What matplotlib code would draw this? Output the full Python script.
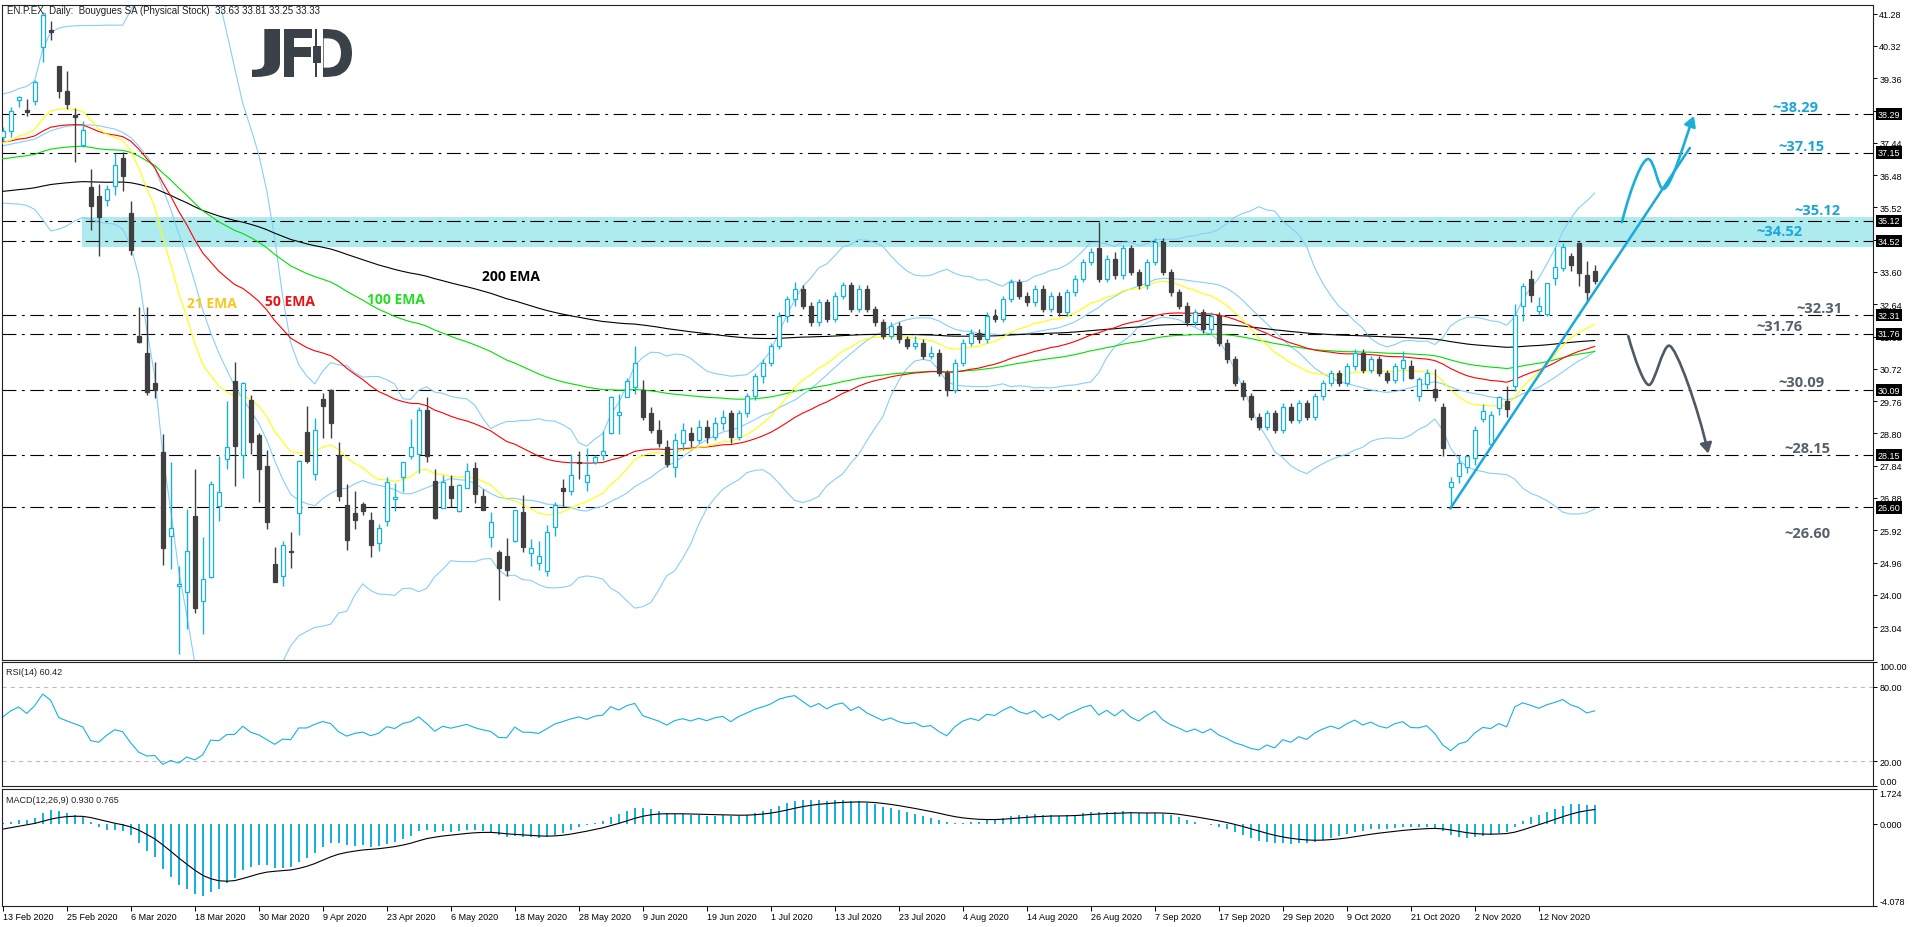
import numpy as np
import pandas as pd
import matplotlib
matplotlib.use("Agg")
import matplotlib.pyplot as plt
from matplotlib.path import Path
from matplotlib.patches import FancyArrowPatch, PathPatch, Rectangle
from matplotlib.textpath import TextPath
from matplotlib.font_manager import FontProperties
from matplotlib.transforms import Affine2D

plt.rcParams['font.family'] = ['Liberation Sans', 'DejaVu Sans']
plt.rcParams['lines.scale_dashes'] = False

# ---- daily OHLC, Bouygues SA, 13 Feb 2020 .. 23 Nov 2020 ----
opens = [
    37.60, 37.79, 38.71, 38.41, 38.68, 40.30, 40.80, 39.72, 38.98, 38.28,
    37.38, 36.12, 35.86, 35.74, 36.16, 36.99, 35.35, 31.69, 31.19, 30.30,
    28.25, 25.74, 24.26, 24.08, 26.35, 23.82, 24.53, 26.65, 28.03, 30.36,
    28.15, 29.79, 28.75, 27.83, 24.92, 24.55, 25.30, 26.42, 28.83, 27.60,
    29.82, 30.08, 28.16, 26.67, 26.42, 26.70, 26.23, 25.53, 26.19, 26.85,
    27.50, 28.12, 28.18, 29.50, 27.38, 26.59, 27.25, 26.50, 27.18, 27.76,
    26.93, 25.71, 25.26, 25.14, 25.61, 26.47, 25.23, 24.94, 24.70, 26.01,
    27.17, 27.10, 27.94, 27.35, 27.94, 28.17, 28.81, 29.36, 29.87, 30.17,
    30.10, 29.40, 28.90, 28.40, 27.80, 28.50, 28.80, 28.60, 29.00, 28.70,
    29.10, 29.40, 28.70, 29.40, 29.90, 30.50, 30.90, 31.40, 32.30, 32.80,
    33.10, 32.60, 32.10, 32.70, 32.20, 32.90, 33.20, 32.50, 33.10, 32.50,
    32.10, 31.70, 32.00, 31.60, 31.40, 31.50, 31.10, 31.20, 30.60, 30.10,
    30.90, 31.50, 31.80, 31.60, 32.30, 32.20, 32.80, 33.30, 32.90, 32.70,
    33.10, 32.50, 32.90, 32.40, 33.00, 33.40, 33.90, 34.30, 33.40, 34.00,
    33.50, 34.30, 33.60, 33.20, 33.90, 34.50, 33.60, 33.00, 32.60, 32.10,
    32.40, 31.90, 32.30, 31.50, 31.00, 30.30, 29.90, 29.30, 29.00, 29.40,
    28.90, 29.60, 29.20, 29.70, 29.30, 29.90, 30.30, 30.60, 30.30, 30.80,
    31.20, 30.70, 31.00, 30.60, 30.40, 30.74, 30.79, 29.92, 30.26, 30.12,
    29.59, 27.20, 27.52, 27.79, 28.06, 29.23, 28.48, 29.55, 29.77, 30.22,
    32.58, 33.39, 32.43, 32.35, 33.42, 33.72, 34.07, 34.45, 33.51, 33.63,
]
highs = [
    37.90, 38.50, 38.82, 38.74, 39.32, 41.32, 41.07, 39.72, 39.58, 38.47,
    38.08, 36.66, 36.22, 36.18, 37.14, 37.17, 35.71, 32.55, 32.55, 30.93,
    28.78, 27.95, 24.87, 26.54, 27.74, 25.71, 27.38, 28.13, 29.75, 30.93,
    30.32, 29.94, 28.81, 28.31, 25.41, 25.59, 25.86, 28.00, 29.61, 29.26,
    30.00, 30.12, 28.53, 27.29, 27.10, 26.77, 26.46, 26.10, 27.50, 27.33,
    27.96, 29.23, 29.58, 29.87, 27.74, 27.55, 27.55, 27.30, 27.92, 27.94,
    27.15, 26.45, 25.34, 25.69, 26.51, 26.97, 25.66, 25.61, 26.08, 26.75,
    27.44, 28.20, 28.29, 28.36, 28.16, 28.88, 29.92, 29.97, 30.45, 31.39,
    30.40, 29.60, 29.20, 28.60, 28.80, 29.10, 29.00, 29.20, 29.20, 29.30,
    29.50, 29.50, 29.50, 30.00, 30.60, 31.00, 31.50, 32.40, 32.90, 33.30,
    33.20, 32.70, 32.80, 32.80, 33.00, 33.30, 33.30, 33.20, 33.20, 32.60,
    32.20, 32.10, 32.10, 31.70, 31.70, 31.60, 31.40, 31.30, 30.70, 31.00,
    31.60, 31.90, 31.90, 32.40, 32.50, 32.90, 33.40, 33.40, 33.00, 33.20,
    33.20, 33.00, 33.00, 33.10, 33.50, 34.00, 34.30, 35.10, 34.10, 34.20,
    34.40, 34.40, 33.70, 34.00, 34.60, 34.60, 33.70, 33.10, 32.70, 32.50,
    32.50, 32.40, 32.40, 31.60, 31.10, 30.40, 30.00, 29.40, 29.50, 29.50,
    29.70, 29.70, 29.80, 29.80, 30.00, 30.40, 30.70, 30.70, 30.90, 31.30,
    31.30, 31.10, 31.10, 30.70, 30.90, 31.26, 30.97, 30.47, 30.72, 30.72,
    29.70, 27.49, 28.16, 28.14, 29.03, 29.67, 29.47, 29.92, 30.20, 32.65,
    33.27, 33.66, 32.85, 33.28, 34.33, 34.46, 34.17, 34.48, 33.92, 33.81,
]
lows = [
    37.50, 37.61, 38.50, 38.24, 38.56, 39.85, 40.51, 38.77, 38.45, 36.87,
    37.31, 34.85, 34.07, 35.56, 35.89, 36.00, 34.10, 31.50, 29.94, 29.86,
    24.89, 24.76, 22.24, 22.98, 23.46, 22.84, 24.50, 26.20, 27.74, 27.24,
    27.48, 28.19, 26.77, 25.96, 24.37, 24.27, 24.80, 25.79, 27.92, 27.42,
    28.67, 28.66, 26.80, 25.34, 25.96, 26.38, 25.12, 25.31, 26.06, 26.50,
    27.05, 28.04, 27.62, 27.96, 26.26, 26.59, 26.61, 26.45, 27.18, 26.72,
    26.53, 25.43, 23.85, 24.57, 25.58, 25.27, 24.87, 24.75, 24.55, 25.76,
    26.65, 26.98, 27.44, 27.10, 27.90, 28.01, 28.78, 28.78, 29.87, 29.97,
    29.20, 28.80, 28.40, 27.80, 27.50, 28.30, 28.40, 28.50, 28.50, 28.60,
    28.90, 28.50, 28.60, 29.30, 29.80, 30.30, 30.80, 31.30, 32.10, 32.60,
    32.50, 32.00, 32.00, 32.10, 32.10, 32.80, 32.40, 32.40, 32.40, 32.00,
    31.60, 31.60, 31.50, 31.30, 31.30, 31.00, 31.00, 30.50, 29.90, 30.00,
    30.80, 31.40, 31.50, 31.50, 32.10, 32.10, 32.70, 32.80, 32.60, 32.60,
    32.40, 32.40, 32.30, 32.30, 32.90, 33.30, 33.80, 33.30, 33.30, 33.40,
    33.40, 33.50, 33.10, 33.10, 33.80, 33.50, 32.90, 32.50, 32.00, 32.00,
    31.80, 31.80, 31.40, 30.90, 30.20, 29.80, 29.20, 28.90, 28.90, 28.80,
    28.80, 29.10, 29.10, 29.20, 29.20, 29.80, 30.20, 30.20, 30.20, 30.70,
    30.60, 30.60, 30.50, 30.30, 30.30, 30.37, 30.43, 29.77, 30.12, 29.77,
    28.12, 26.57, 27.32, 27.62, 27.86, 29.13, 28.40, 29.36, 29.30, 30.07,
    32.13, 32.70, 32.33, 32.30, 33.22, 33.64, 33.64, 33.19, 32.75, 33.25,
]
closes = [
    37.78, 38.38, 38.80, 38.36, 39.25, 41.24, 40.73, 38.99, 38.59, 38.21,
    37.82, 35.56, 35.24, 36.06, 36.78, 36.45, 34.25, 31.53, 30.02, 30.08,
    25.40, 25.99, 24.32, 25.29, 23.62, 24.46, 27.29, 27.05, 28.39, 28.43,
    30.30, 28.55, 27.75, 26.17, 24.37, 25.49, 25.26, 27.99, 27.99, 28.89,
    29.62, 29.11, 26.95, 25.64, 26.23, 26.50, 25.49, 25.98, 27.35, 26.90,
    27.96, 28.41, 29.50, 28.12, 26.28, 27.35, 26.89, 27.28, 27.69, 27.00,
    26.53, 26.17, 24.79, 24.75, 26.51, 25.41, 25.38, 25.14, 25.86, 26.67,
    27.09, 27.56, 27.91, 27.56, 28.11, 28.29, 29.87, 29.45, 30.36, 30.88,
    29.30, 28.90, 28.50, 27.90, 28.60, 28.90, 28.60, 29.00, 28.70, 29.10,
    29.30, 28.70, 29.40, 29.90, 30.50, 30.90, 31.40, 32.30, 32.80, 33.10,
    32.60, 32.10, 32.70, 32.20, 32.90, 33.20, 32.50, 33.10, 32.50, 32.10,
    31.70, 32.00, 31.60, 31.40, 31.50, 31.10, 31.20, 30.60, 30.10, 30.90,
    31.50, 31.80, 31.60, 32.30, 32.20, 32.80, 33.30, 32.90, 32.70, 33.10,
    32.50, 32.90, 32.40, 33.00, 33.40, 33.90, 34.20, 33.40, 34.00, 33.50,
    34.30, 33.60, 33.20, 33.90, 34.50, 33.60, 33.00, 32.60, 32.10, 32.40,
    31.90, 32.30, 31.50, 31.00, 30.30, 29.90, 29.30, 29.00, 29.40, 28.90,
    29.60, 29.20, 29.70, 29.30, 29.90, 30.30, 30.60, 30.30, 30.80, 31.20,
    30.70, 31.00, 30.60, 30.40, 30.80, 30.99, 30.45, 30.42, 30.59, 29.87,
    28.37, 27.35, 27.91, 28.12, 28.90, 29.48, 29.35, 29.87, 29.52, 32.33,
    33.19, 32.92, 32.60, 33.26, 33.74, 34.35, 33.82, 33.56, 33.00, 33.33,
]

date_labels = ["13 Feb 2020", "25 Feb 2020", "6 Mar 2020", "18 Mar 2020", "30 Mar 2020",
               "9 Apr 2020", "23 Apr 2020", "6 May 2020", "18 May 2020", "28 May 2020",
               "9 Jun 2020", "19 Jun 2020", "1 Jul 2020", "13 Jul 2020", "23 Jul 2020",
               "4 Aug 2020", "14 Aug 2020", "26 Aug 2020", "7 Sep 2020", "17 Sep 2020",
               "29 Sep 2020", "9 Oct 2020", "21 Oct 2020", "2 Nov 2020", "12 Nov 2020"]
bars_per_label = 8

price_ticks = [41.28, 40.32, 39.36, 38.40, 37.44, 36.48, 35.52, 34.56, 33.60, 32.64,
               31.68, 30.72, 29.76, 28.80, 27.84, 26.88, 25.92, 24.96, 24.00, 23.04]
levels_up = [38.29, 37.15, 35.12, 34.52]
levels_down = [32.31, 31.76, 30.09, 28.15, 26.60]
zone_low, zone_high, zone_start = 34.35, 35.23, 9.9

# indicator warm-up values, read at the first bar of the chart
ema_seeds = {21: 37.40, 50: 37.45, 100: 36.95, 200: 35.98}
macd_seeds = (37.45, 37.45, -0.34)        # ema12, ema26, signal
rsi_seeds = (0.20, 0.16)                   # avg gain, avg loss
bb_head_upper = [38.89, 38.95, 39.05, 39.12, 39.29, 40.23, 40.73, 40.85, 40.90, 40.92,
                 40.93, 40.93, 40.93, 40.94, 40.94, 40.94, 41.38, 41.80, 42.30]
bb_head_mid = [37.35, 37.40, 37.45, 37.50, 37.55, 37.68, 37.80, 37.87, 37.93, 37.96,
               37.97, 37.97, 37.95, 37.90, 37.85, 37.75, 37.60, 37.35, 37.05]
bb_head_lower = [35.65, 35.63, 35.62, 35.58, 35.46, 35.16, 34.82, 34.87, 34.97, 35.12,
                 35.22, 35.16, 35.08, 35.05, 35.02, 34.87, 34.38, 33.49, 31.90]

# drawn analysis: support line and the two scenario arrows (bar index, price)
trend_x = [180.95, 210.9]
trend_y = [26.57, 37.29]
bull_path = [(202.4, 35.08), (203.6, 36.2), (205.0, 36.98), (205.7, 36.96),
             (206.5, 36.94), (206.9, 36.05), (207.6, 36.07),
             (208.6, 36.10), (210.2, 37.50), (211.4, 38.24)]
bear_path = [(203.2, 31.69), (204.0, 31.00), (205.2, 30.22), (205.8, 30.24),
             (206.5, 30.26), (207.5, 31.42), (208.3, 31.41),
             (209.2, 31.40), (212.0, 29.50), (213.2, 28.20)]

# ---------------- indicators ----------------
O = np.array(opens); Hh = np.array(highs); L = np.array(lows); C = np.array(closes)
n = len(C)
x = np.arange(n)
cs = pd.Series(C)


def ema(series, span, seed):
    s = pd.concat([pd.Series([seed]), pd.Series(series)], ignore_index=True)
    return s.ewm(span=span, adjust=False).mean().iloc[1:].to_numpy()


emas = {p: ema(cs, p, s) for p, s in ema_seeds.items()}

mid = cs.rolling(20).mean().to_numpy()
sd = cs.rolling(20).std(ddof=0).to_numpy()
bb_up = mid + 2 * sd
bb_lo = mid - 2 * sd
k = len(bb_head_mid)
bb_up[:k] = bb_head_upper; mid[:k] = bb_head_mid; bb_lo[:k] = bb_head_lower

macd = ema(cs, 12, macd_seeds[0]) - ema(cs, 26, macd_seeds[1])
signal = ema(macd, 9, macd_seeds[2])

g, l = rsi_seeds
rsi = []
for i in range(n):
    if i > 0:
        d = C[i] - C[i - 1]
        g = (g * 13 + max(d, 0)) / 14
        l = (l * 13 + max(-d, 0)) / 14
    rsi.append(100 - 100 / (1 + g / l))

# ---------------- figure ----------------
W, H = 1916, 928
fig = plt.figure(figsize=(W / 100, H / 100), dpi=100)


def px_axes(x0, y0, x1, y1):
    return fig.add_axes([x0 / W, 1 - y1 / H, (x1 - x0) / W, (y1 - y0) / H])


ax = px_axes(2, 6, 1873, 661)
ax_rsi = px_axes(2, 663, 1873, 787)
ax_macd = px_axes(2, 790, 1873, 907)
xmin, xmax = (2 - 2.7) / 8, (1873 - 2.7) / 8

CYAN = '#17B2DE'
DARK = '#404040'
LW = 0.8

for a in (ax, ax_rsi, ax_macd):
    a.set_xlim(xmin, xmax)
    a.yaxis.tick_right()
    a.tick_params(axis='y', direction='out', length=3, width=0.7, pad=1.5, labelsize=6.5)
    a.tick_params(axis='x', bottom=False, labelbottom=False)
    for s in a.spines.values():
        s.set_linewidth(0.8)
        s.set_color('#222222')

# main panel
ax.set_ylim(22.062, 41.539)
ax.fill_between([zone_start, xmax], zone_low, zone_high, color='#AEEBEE', lw=0, zorder=1)
for lv in levels_up + levels_down:
    ax.axhline(lv, color='black', lw=LW, linestyle=(0, (10, 4, 2, 4)), zorder=2)

ax.plot(x, bb_up, color='#87CEFA', lw=LW, zorder=2.5)
ax.plot(x, mid, color='#87CEFA', lw=LW, zorder=2.5)
ax.plot(x, bb_lo, color='#87CEFA', lw=LW, zorder=2.5)
ax.plot(x, emas[200], color='black', lw=LW, zorder=2.6)
ax.plot(x, emas[100], color='#00E000', lw=LW, zorder=2.6)
ax.plot(x, emas[50], color='#FF0000', lw=LW, zorder=2.6)
ax.plot(x, emas[21], color='#FFFF00', lw=LW, zorder=2.6)

up = C >= O
ax.vlines(x, L, Hh, colors=np.where(up, CYAN, DARK), lw=1.0, zorder=3)
ax.bar(x, np.maximum(np.abs(C - O), 0.03), bottom=np.minimum(O, C), width=0.5,
       color=np.where(up, 'white', DARK), edgecolor=np.where(up, CYAN, DARK),
       linewidth=0.9, zorder=4)

ax.plot(trend_x, trend_y, color='#1AA9D9', lw=1.8, zorder=5, solid_capstyle='round')
codes = [Path.MOVETO] + [Path.CURVE4] * 9
for pts, col in ((bull_path, '#1AAFDA'), (bear_path, '#4F5964')):
    arr = FancyArrowPatch(path=Path(pts, codes), arrowstyle='-|>,head_length=6,head_width=3.5',
                          color=col, lw=1.9, zorder=5)
    ax.add_patch(arr)

ax.set_yticks(price_ticks)
ax.set_yticklabels([f"{t:.2f}" for t in price_ticks])
for lv in levels_up + levels_down:
    ax.annotate(f"{lv:.2f}", xy=(1, lv), xycoords=('axes fraction', 'data'),
                xytext=(3.2, 0), textcoords='offset points', ha='left', va='center',
                color='white', fontsize=6.5, annotation_clip=False,
                bbox=dict(boxstyle='square,pad=0.18', fc='black', ec='none'))

lvl_font = dict(fontsize=10.5, fontweight='bold', family=['Open Sans', 'DejaVu Sans'], va='center')
lvl_text = [(221.2, 38.52, levels_up[0]), (221.9, 37.36, levels_up[1]),
            (223.9, 35.43, levels_up[2]), (219.2, 34.81, levels_up[3])]
for tx, ty, lv in lvl_text:
    ax.text(tx, ty, f"~{lv:.2f}", color='#1BA6D8', **lvl_font)
lvl_text = [(224.2, 32.52, levels_down[0]), (219.2, 31.98, levels_down[1]),
            (221.9, 30.34, levels_down[2]), (222.7, 28.38, levels_down[3]),
            (222.7, 25.84, levels_down[4])]
for tx, ty, lv in lvl_text:
    ax.text(tx, ty, f"~{lv:.2f}", color='#56606B', **lvl_font)

ema_font = dict(fontsize=10, fontweight='bold', family=['Open Sans', 'DejaVu Sans'], va='center')
ax.text(23.0, 32.68, "21 EMA", color='#F7C81E', **ema_font)
ax.text(32.8, 32.74, "50 EMA", color='#EE1111', **ema_font)
ax.text(45.5, 32.80, "100 EMA", color='#22DD22', **ema_font)
ax.text(59.9, 33.48, "200 EMA", color='black', **ema_font)

fig.text(7 / W, 1 - 10.5 / H,
         "EN.P.EX, Daily:  Bouygues SA (Physical Stock)  33.63 33.81 33.25 33.33",
         fontsize=7, va='center', color='#202020')

# RSI panel
ax_rsi.set_ylim(0, 100)
ax_rsi.axhline(80, color='#BBBBBB', lw=LW, linestyle=(0, (3, 3)))
ax_rsi.axhline(20, color='#BBBBBB', lw=LW, linestyle=(0, (3, 3)))
ax_rsi.plot(x, rsi, color=CYAN, lw=LW)
ax_rsi.set_yticks([0, 20, 80, 100])
ax_rsi.set_yticklabels(["0.00", "20.00", "80.00", "100.00"])
tl = ax_rsi.get_yticklabels()
tl[0].set_va('bottom'); tl[-1].set_va('top')
ax_rsi.text(4 / 1871, 0.92, f"RSI(14) {60.42:.2f}", transform=ax_rsi.transAxes,
            fontsize=6.5, va='center', color='#202020')

# MACD panel
ax_macd.set_ylim(-4.078, 1.724)
ax_macd.bar(x, macd, width=0.25, color=CYAN, lw=0)
ax_macd.plot(x, signal, color='black', lw=LW)
ax_macd.set_yticks([-4.078, 0, 1.724])
ax_macd.set_yticklabels(["-4.078", "0.000", "1.724"])
tl = ax_macd.get_yticklabels()
tl[0].set_va('bottom'); tl[-1].set_va('top')
ax_macd.text(4 / 1871, 0.91, "MACD(12,26,9) 0.930 0.765", transform=ax_macd.transAxes,
             fontsize=6.5, va='center', color='#202020')

ax_macd.set_xticks(np.arange(len(date_labels)) * bars_per_label)
ax_macd.set_xticklabels(date_labels, ha='left')
ax_macd.tick_params(axis='x', bottom=True, labelbottom=True, direction='out',
                    length=3.5, width=0.7, pad=1, labelsize=6.5)

# JFD logo
logo_font = FontProperties(family='DejaVu Sans', weight='bold')
logo_col = '#3A4149'


def glyph(ch, x0, x1, y0, y1):
    tp = TextPath((0, 0), ch, size=100, prop=logo_font)
    bb = tp.get_extents()
    tr = (Affine2D().translate(-bb.x0, -bb.y0)
          .scale((x1 - x0) / bb.width, (y1 - y0) / bb.height)
          .translate(x0, H - y1).scale(1 / W, 1 / H))
    fig.add_artist(PathPatch(tr.transform_path(tp), fc=logo_col, ec='none',
                             transform=fig.transFigure, zorder=5))


glyph("J", 252, 280, 30, 78)
glyph("F", 284, 312, 30, 78)
glyph("D", 313, 352, 30, 78)
fig.add_artist(Rectangle((312 / W, 1 - 79 / H), 10.5 / W, 50 / H, fc='white', ec='none',
                         transform=fig.transFigure, zorder=6))
fig.add_artist(Rectangle((315 / W, 1 - 78 / H), 2.2 / W, 48 / H, fc=logo_col, ec='none',
                         transform=fig.transFigure, zorder=7))
fig.add_artist(Rectangle((313 / W, 1 - 63.5 / H), 7.5 / W, 17 / H, fc=logo_col, ec='none',
                         transform=fig.transFigure, zorder=7))

fig.savefig("out.png", dpi=100)
